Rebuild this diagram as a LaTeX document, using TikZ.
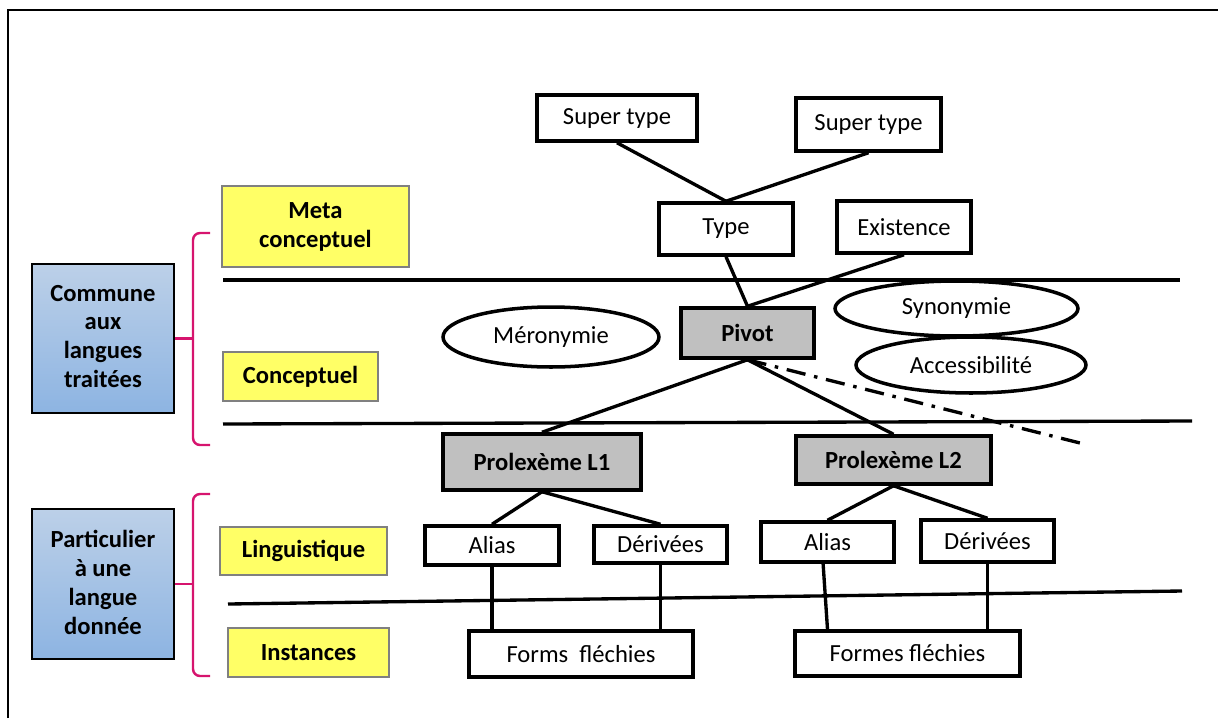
\documentclass[tikz,border=0pt]{standalone}
\usepackage{fontspec}
\setmainfont{Carlito}
\usetikzlibrary{shapes.geometric}
\definecolor{yelfill}{RGB}{255,255,102}
\definecolor{bluetop}{RGB}{188,208,232}
\definecolor{bluebot}{RGB}{141,180,226}
\definecolor{bracecol}{RGB}{214,20,110}
\definecolor{greyfill}{RGB}{192,192,192}
\begin{document}
\begin{tikzpicture}[x=0.02cm, y=-0.02cm,
    every node/.style={font=\fontsize{14}{16.5}\selectfont, inner sep=0pt, align=center},
    box/.style={draw, line width=2pt, fill=white},
    greybox/.style={box, fill=greyfill, font=\fontsize{14}{16.5}\selectfont\bfseries},
    oval/.style={draw, ellipse, line width=2pt},
    yelbox/.style={draw=gray, line width=0.6pt, fill=yelfill, font=\fontsize{14}{16.5}\selectfont\bfseries},
    bluebox/.style={draw, line width=1.4pt, top color=bluetop, bottom color=bluebot, font=\fontsize{14}{16.5}\selectfont\bfseries},
    link/.style={line width=1.9pt},
    brace/.style={draw=bracecol, line width=1.4pt, rounded corners=4pt}]
  \useasboundingbox (0,0) rectangle (1218,718);
  % frame
  \draw[line width=1.3pt] (8,718) -- (8,10) -- (1218,10);

  % levels
  \node[bluebox, minimum width=2.84cm, minimum height=2.98cm] (com) at (103,338.5) {Commune\\aux\\langues\\traitées\vphantom{g}};
  \node[bluebox, minimum width=2.84cm, minimum height=3cm] (part) at (103,584) {Particulier\\à une\\langue\\donnée\vphantom{g}};
  \node[yelbox, minimum width=3.74cm, minimum height=1.62cm] (meta) at (315.5,226.5) {Meta\\conceptuel};
  \node[yelbox, minimum width=3.1cm, minimum height=0.98cm] (concept) at (300.5,376.5) {Conceptuel};
  \node[yelbox, minimum width=3.34cm, minimum height=0.96cm] (ling) at (303.5,551) {Linguistique};
  \node[yelbox, minimum width=3.22cm, minimum height=0.98cm] (inst) at (308.5,652.5) {Instances};

  % braces
  \draw[brace] (210,233) -- (193,233) -- (193,445) -- (210,445);
  \draw[brace] (com.east) -- (193,338.5);
  \draw[brace] (210,494) -- (193,494) -- (193,676) -- (210,676);
  \draw[brace] (part.east) -- (193,584);

  % separators
  \draw[link] (223,280) -- (1180,280);
  \draw[link] (223,424) -- (1192,421);
  \draw[link] (228,604) -- (1182,591);

  % nodes
  \node[box, minimum width=3.2cm, minimum height=0.92cm] (st1) at (617,118) {Super type};
  \node[box, minimum width=2.9cm, minimum height=1.06cm] (st2) at (868.5,124.5) {Super type};
  \node[box, minimum width=2.68cm, minimum height=1.04cm] (type) at (726,229) {Type};
  \node[box, minimum width=2.68cm, minimum height=1.04cm] (exist) at (904,227) {Existence};
  \node[greybox, minimum width=2.66cm, minimum height=1cm] (pivot) at (747.5,333) {Pivot};
  \node[oval, minimum width=4.32cm, minimum height=1.2cm] (mero) at (551,337) {Méronymie};
  \node[oval, minimum width=4.86cm, minimum height=1.1cm] (syn) at (956.5,308.5) {Synonymie};
  \node[oval, minimum width=4.6cm, minimum height=1.12cm] (acc) at (971,365) {Accessibilité};
  \node[greybox, minimum width=3.96cm, minimum height=1.12cm] (pl1) at (542,462) {Prolexème L1};
  \node[greybox, minimum width=3.9cm, minimum height=0.96cm] (pl2) at (893.5,460) {Prolexème L2};
  \node[box, minimum width=2.68cm, minimum height=0.78cm] (a1) at (492,545.5) {Alias};
  \node[box, minimum width=2.66cm, minimum height=0.74cm] (d1) at (660.5,544.5) {Dérivées};
  \node[box, minimum width=2.66cm, minimum height=0.8cm] (a2) at (827.5,542) {Alias};
  \node[box, minimum width=2.66cm, minimum height=0.84cm] (d2) at (987.5,541) {Dérivées};
  \node[box, minimum width=4.48cm, minimum height=0.92cm] (ff1) at (581,654) {Forms\ \ fléchies};
  \node[box, minimum width=4.5cm, minimum height=0.9cm] (ff2) at (907.5,653.5) {Formes fléchies};
  \coordinate (dend) at (1080,443);

  % links
  \draw[link] (st1.south) -- (type.north);
  \draw[link] (st2.south) -- (type.north);
  \draw[link] (type.south) -- (pivot.north);
  \draw[link] (exist.south) -- (pivot.north);
  \draw[link] (pivot.south) -- (pl1.north);
  \draw[link] (pivot.south) -- (pl2.north);
  \draw[link, dash pattern=on 11pt off 5pt on 2pt off 5pt] (pivot.south) -- (dend);
  \draw[link] (pl1.south) -- (a1.north);
  \draw[link] (pl1.south) -- (d1.north);
  \draw[link] (pl2.south) -- (a2.north);
  \draw[link] (pl2.south) -- (d2.north);
  \draw[link] (a1.south) -- (a1.south |- ff1.north);
  \draw[link] (d1.south) -- (d1.south |- ff1.north);
  \draw[link] ([xshift=-2.5]a2.south) -- (a2.south |- ff2.north);
  \draw[link] (d2.south) -- (d2.south |- ff2.north);
\end{tikzpicture}
\end{document}
